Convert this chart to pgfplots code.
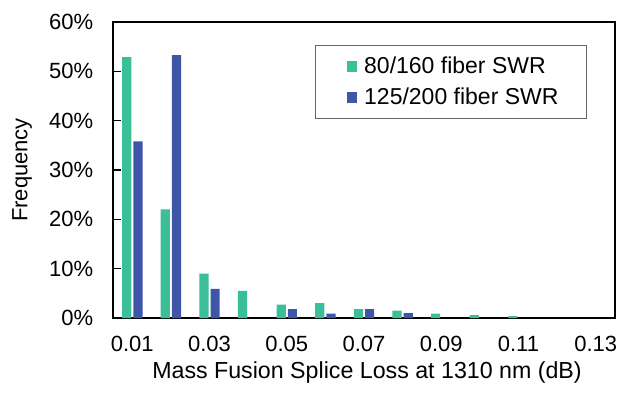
\documentclass[border=0pt]{standalone}
\usepackage{pgfplots}
\pgfplotsset{compat=1.18}
\usepackage{fontspec}
\setmainfont{Liberation Sans}

\definecolor{swrgreen}{RGB}{59,191,152}
\definecolor{swrblue}{RGB}{62,86,168}

\begin{document}
\begin{tikzpicture}
\fontsize{11}{13}\selectfont
% 1px of the reference = 0.5pt
\path[use as bounding box] (-56.5pt,-42.5pt) rectangle (253pt,159pt);
\begin{axis}[
    at={(0,0)}, anchor=south west,
    scale only axis,
    width=251pt, height=148pt,
    ybar,
    bar width=4.6pt,
    xmin=0.5, xmax=13.5,
    ymin=0, ymax=60,
    xtick={1,3,5,7,9,11,13},
    xticklabels={0.01,0.03,0.05,0.07,0.09,0.11,0.13},
    ytick={0,10,20,30,40,50,60},
    yticklabels={0\%,10\%,20\%,30\%,40\%,50\%,60\%},
    x tick style={draw=none},
    y tick style={black, line width=0.6pt},
    tick align=inside,
    major tick length=4pt,
    ytick pos=left,
    axis line style={black, line width=0.7pt},
    xticklabel style={font=\fontsize{11}{13}\selectfont, yshift=-5pt},
    yticklabel style={font=\fontsize{11}{13}\selectfont, xshift=-6pt},
    xlabel={Mass Fusion Splice Loss at 1310 nm (dB)},
    ylabel={Frequency},
    every axis x label/.style={at={(axis description cs:0.506,-0.185)}, anchor=center, font=\fontsize{11.6}{13}\selectfont},
    every axis y label/.style={at={(axis description cs:-0.181,0.5)}, rotate=90, anchor=center, font=\fontsize{11}{13}\selectfont},
    legend style={at={(1,1)}, anchor=north east, xshift=-14pt, yshift=-11.5pt,
        draw=gray!80!black, line width=0.5pt, inner xsep=12pt, inner ysep=3.5pt,
        row sep=1.5pt, font=\fontsize{11.5}{13.5}\selectfont,
        /tikz/every odd column/.append style={column sep=1.5pt}},
    legend cell align=left,
    legend image code/.code={\path (0pt,0pt); \fill[#1,draw=none] (3.5pt,-2.6pt) rectangle (8.7pt,2.6pt);},
]
\addplot[fill=swrgreen, draw=none, bar shift=-2.8pt] coordinates {
    (1,52.9) (2,22.0) (3,9.0) (4,5.5) (5,2.7) (6,3.0) (7,1.8) (8,1.5)
    (9,0.9) (10,0.6) (11,0.4)
};
\addplot[fill=swrblue, draw=none, bar shift=2.8pt] coordinates {
    (1,35.8) (2,53.3) (3,5.9) (5,1.8) (6,0.9) (7,1.8) (8,1.0)
};
\legend{80/160 fiber SWR, 125/200 fiber SWR}
\end{axis}
\end{tikzpicture}
\end{document}
